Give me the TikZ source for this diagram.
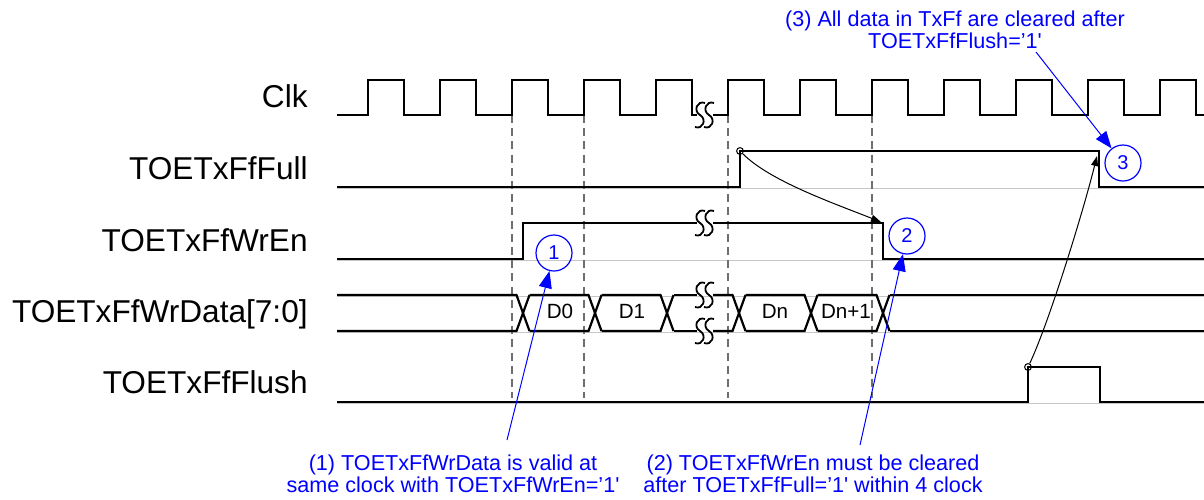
\documentclass[tikz,border=0pt]{standalone}
\usepackage{fontspec}
\newfontfamily\arialf{Liberation Sans}
\usetikzlibrary{arrows.meta}
\definecolor{annblue}{RGB}{0,0,255}
\definecolor{dashgray}{RGB}{110,110,110}
\tikzset{
 sig/.style={line width=1.1pt, black, line join=miter},
 basegray/.style={line width=0.5pt, black!22},
 guide/.style={dashgray, line width=0.8pt, dash pattern=on 4pt off 2.6pt},
 siglabel/.style={anchor=base east, font=\arialf\fontsize{15.8}{18}\selectfont, inner sep=0pt},
 datalabel/.style={anchor=base, font=\arialf\fontsize{10.3}{12}\selectfont, inner sep=0pt},
 circ/.style={circle, draw=annblue, line width=0.6pt, text=annblue, minimum size=18pt, inner sep=0pt, font=\arialf\fontsize{10}{12}\selectfont},
 note/.style={text=annblue, align=center, font=\arialf\fontsize{10.8}{11.2}\selectfont, inner sep=0pt},
 bluearrow/.style={annblue, line width=0.5pt, -{Triangle[length=8.5pt,width=6.5pt]}},
 blackarrow/.style={black, line width=0.5pt, -{Triangle[length=5pt,width=3.5pt]}},
 hollow/.style={circle, draw, line width=0.5pt, minimum size=3.4pt, inner sep=0pt},
 brk/.pic={\foreach \dx in {-5,4} {\draw[line width=0.9pt] (\dx+5,-12) .. controls (\dx-3,-15) and (\dx-7,-4) .. (\dx,0) .. controls (\dx+7,4) and (\dx+3,15) .. (\dx-5,12);}}
}
\begin{document}
\begin{tikzpicture}[x=0.5pt,y=-0.5pt]
\useasboundingbox (0,0) rectangle (1204,499);

% signal names
\node[siglabel] (lclk) at (308,107) {Clk};
\node[siglabel] (lfull) at (308,179) {TOETxFfFull};
\node[siglabel] (lwren) at (308,251) {TOETxFfWrEn};
\node[siglabel] (ldata) at (308,322) {TOETxFfWrData[7:0]};
\node[siglabel] (lflush) at (308,393) {TOETxFfFlush};

% faint baselines
\foreach \yy in {188,260,296,332,403} {\draw[basegray] (337,\yy) -- (1204,\yy);}

% dashed guides
\foreach \xx in {512,584,728,872} {\draw[guide] (\xx,115) -- (\xx,398);}

% clock
\draw[sig] (337,115) \foreach \k in {0,...,4} { -- ({368+72*\k},115) -- ({368+72*\k},80) -- ({404+72*\k},80) -- ({404+72*\k},115) } -- (697,115);
\draw[sig] (713,115) \foreach \k in {5,...,11} { -- ({368+72*\k},115) -- ({368+72*\k},80) -- ({404+72*\k},80) -- ({404+72*\k},115) } -- (1204,115);
\pic at (705,115) {brk};

% full
\draw[sig] (337,187) -- (740,187) -- (740,151) -- (1099,151) -- (1099,187) -- (1204,187);

% wren
\draw[sig] (337,259) -- (523,259) -- (523,223) -- (697,223);
\draw[sig] (713,223) -- (883,223) -- (883,259) -- (1204,259);
\pic at (705,223) {brk};

% data bus
\draw[sig] (337,295) -- (516.5,295) -- (529.5,331);
\draw[sig] (337,331) -- (516.5,331) -- (529.5,295);
\foreach \a/\b in {523/595,595/667,739/811,811/883} {
  \draw[sig] (\a+6.5,295) -- (\b-6.5,295) -- (\b+6.5,331);
  \draw[sig] (\a+6.5,331) -- (\b-6.5,331) -- (\b+6.5,295);
}
\draw[sig] (673.5,295) -- (697,295);
\draw[sig] (673.5,331) -- (697,331);
\draw[sig] (713,295) -- (732.5,295) -- (745.5,331);
\draw[sig] (713,331) -- (732.5,331) -- (745.5,295);
\draw[sig] (889.5,295) -- (1204,295);
\draw[sig] (889.5,331) -- (1204,331);
\pic at (705,295) {brk};
\pic at (705,331) {brk};
\node[datalabel] (d0) at (560,318) {D0};
\node[datalabel] (d1) at (632,318) {D1};
\node[datalabel] (dn) at (775,318) {Dn};
\node[datalabel] (dn1) at (846,318) {Dn+1};

% flush
\draw[sig] (337,402) -- (1028,402) -- (1028,367) -- (1100,367) -- (1100,402) -- (1204,402);

% markers and causal arrows
\node[hollow] (fd) at (740,151) {};
\node[hollow] (fl) at (1028,367) {};
\coordinate (wf) at (881,222);
\coordinate (fe) at (1097,156);
\draw[blackarrow] (fd) .. controls +(30,30) and +(-48,-19) .. (wf);
\draw[blackarrow] (fl) .. controls +(20,-42) and +(-15,60) .. (fe);

% numbered circles
\node[circ] (c1) at (554,253) {1};
\node[circ] (c2) at (907,236) {2};
\node[circ] (c3) at (1123,163) {3};

% notes
\node[note] (t1) at (453,474) {(1) TOETxFfWrData is valid at\\same clock with TOETxFfWrEn=’1'};
\node[note] (t2) at (813,474) {(2) TOETxFfWrEn must be cleared\\after TOETxFfFull=’1' within 4 clock};
\node[note] (t3) at (955,30) {(3) All data in TxFf are cleared after\\TOETxFfFlush=’1'};
\coordinate (a1) at (507,440);
\coordinate (a2) at (860,445);
\coordinate (a3) at (1036,52);
\draw[bluearrow] (a1) -- (c1);
\draw[bluearrow] (a2) -- (c2);
\draw[bluearrow] (a3) -- (c3);
\end{tikzpicture}
\end{document}
